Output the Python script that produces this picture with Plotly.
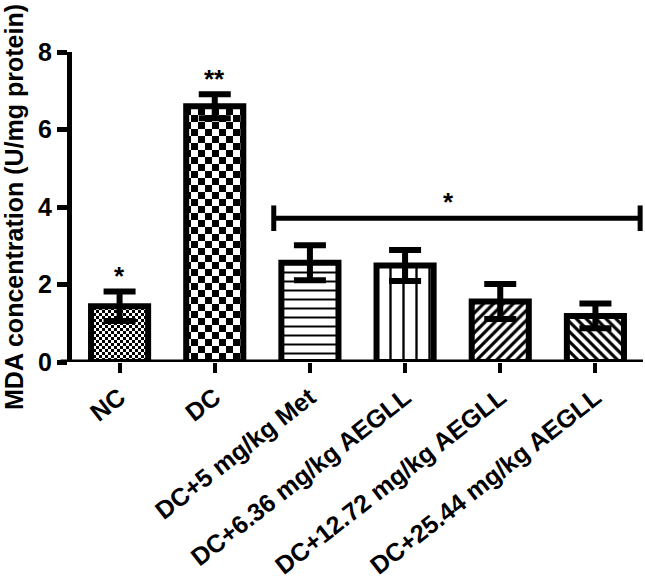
import plotly.graph_objects as go

categories = ["NC", "DC", "DC+5 mg/kg Met", "DC+6.36 mg/kg AEGLL",
              "DC+12.72 mg/kg AEGLL", "DC+25.44 mg/kg AEGLL"]
mda_mean = [1.44, 6.60, 2.56, 2.49, 1.56, 1.19]
mda_err = [0.38, 0.31, 0.45, 0.40, 0.45, 0.32]
bar_stars = ["*", "**", "", "", "", ""]
y_ticks = [0, 2, 4, 6, 8]

# significance bracket over the treated groups
sig_x0, sig_x1, sig_y, sig_cap = 1.62, 5.47, 3.71, 0.33
sig_label, sig_label_x = "*", 3.46

pat_shape = ["+", "+", "-", "|", "/", "\\"]
pat_size = [6, 14, 9, 13, 7, 7]
pat_solid = [0.5, 0.5, 0.22, 0.18, 0.45, 0.45]

FONT = "Liberation Sans, Arial, sans-serif"

fig = go.Figure()
fig.add_trace(go.Bar(
    x=list(range(len(categories))),
    y=mda_mean,
    width=0.6,
    marker=dict(
        color="white",
        line=dict(color="black", width=6),
        pattern=dict(shape=pat_shape, size=pat_size, solidity=pat_solid,
                     fgcolor="black", bgcolor="white", fillmode="replace"),
    ),
    error_y=dict(type="data", array=mda_err, visible=True,
                 color="black", thickness=6, width=16),
    showlegend=False,
))

for i, s in enumerate(bar_stars):
    if s:
        fig.add_annotation(x=i, y=mda_mean[i] + mda_err[i] - 0.05, text="<b>%s</b>" % s,
                           showarrow=False, yanchor="bottom",
                           font=dict(family=FONT, size=26, color="black"))

fig.add_shape(type="line", x0=sig_x0, x1=sig_x1, y0=sig_y, y1=sig_y,
              line=dict(color="black", width=5))
for xx in (sig_x0, sig_x1):
    fig.add_shape(type="line", x0=xx, x1=xx, y0=sig_y - sig_cap, y1=sig_y + sig_cap,
                  line=dict(color="black", width=5))
fig.add_annotation(x=sig_label_x, y=sig_y - 0.02, text="<b>%s</b>" % sig_label,
                   showarrow=False, yanchor="bottom",
                   font=dict(family=FONT, size=26, color="black"))

# x-axis baseline extending slightly left of the y axis
fig.add_shape(type="line", xref="paper", yref="y", x0=-0.02, x1=1, y0=0, y1=0,
              line=dict(color="black", width=5))

fig.update_layout(
    width=645, height=581,
    margin=dict(l=72, r=2, t=52, b=219),
    paper_bgcolor="white", plot_bgcolor="white",
    font=dict(family=FONT, color="black"),
)
fig.update_xaxes(
    range=[-0.5, 5.5], automargin=False,
    tickmode="array", tickvals=list(range(len(categories))),
    ticktext=["<b>%s</b>" % c for c in categories],
    tickangle=-38, tickfont=dict(family=FONT, size=25, color="black"),
    ticks="outside", ticklen=10, tickwidth=4, tickcolor="black",
    showline=False, showgrid=False, zeroline=False,
)
fig.update_yaxes(
    range=[0, 8], automargin=False,
    tickmode="array", tickvals=y_ticks, ticktext=["<b>%d</b>" % v for v in y_ticks],
    tickfont=dict(family=FONT, size=25, color="black"),
    ticks="outside", ticklen=10, tickwidth=5, tickcolor="black",
    showline=True, linewidth=5, linecolor="black",
    showgrid=False, zeroline=False,
    title=dict(text="<b>MDA concentration (U/mg protein)</b>",
               font=dict(family=FONT, size=25, color="black"), standoff=10),
)

post = """
document.body.style.margin = '0';
document.body.style.padding = '0';
document.body.style.overflow = 'hidden';
function checker(){
  var pats = document.querySelectorAll('pattern');
  pats.forEach(function(p){
    var w = parseFloat(p.getAttribute('width'));
    if (Math.abs(w - 14) < 0.01 || Math.abs(w - 6) < 0.01) {
      var h = w / 2;
      var path = p.querySelector('path');
      if (path) {
        path.setAttribute('d', 'M0,0H' + h + 'V' + h + 'H0Z' + 'M' + h + ',' + h + 'H' + w + 'V' + w + 'H' + h + 'Z');
        path.setAttribute('style', 'fill:#000;stroke:none');
      }
    }
  });
}
checker();
"""

fig.write_html("out.html", post_script=post, config={"displayModeBar": False})
